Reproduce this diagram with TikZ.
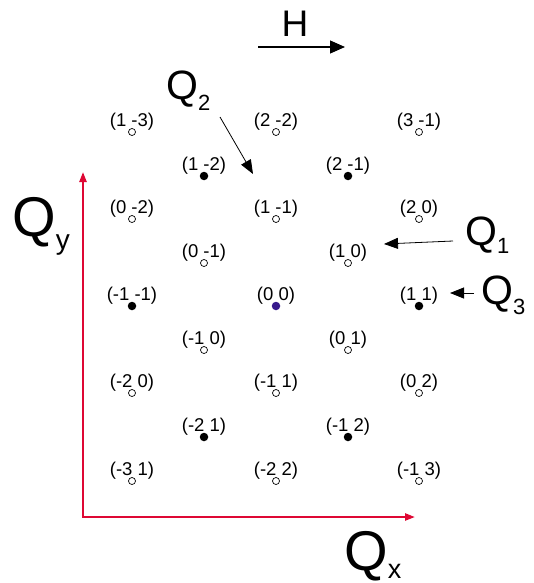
\documentclass[tikz,border=0pt]{standalone}
\usepackage{fontspec}
\setmainfont{Liberation Sans}
\usepackage{tikz}
\usetikzlibrary{
    positioning,
    arrows.meta
}
\definecolor{axisred}{RGB}{222,8,52}
\definecolor{origindot}{RGB}{55,25,140}
\tikzset{
    >=Stealth,
    opendot/.style={
        circle,
        draw,
        line width=0.7pt,
        fill=white,
        minimum size=7pt,
        inner sep=0pt,
        outer sep=0pt
    },
    fulldot/.style={
        circle,
        fill=black,
        minimum size=8.5pt,
        inner sep=0pt,
        outer sep=0pt
    },
    hkl/.style={
        font=\fontsize{18.5}{18.5}\selectfont,
        inner sep=0pt,
        anchor=base,
        yshift=6pt
    },
    qaxis/.style={
        font=\fontsize{56}{56}\selectfont,
        inner sep=0pt,
        anchor=base west
    },
    qvec/.style={
        font=\fontsize{41}{41}\selectfont,
        inner sep=0pt,
        anchor=base west
    },
    axis/.style={
        axisred,
        line width=2.2pt,
        {Triangle[length=10pt,width=7pt]}-{Triangle[length=10pt,width=7pt]}
    },
    pointer/.style={
        line width=0.8pt,
        -{Triangle[length=14pt,width=11pt]}
    }
}

\begin{document}
\begin{tikzpicture}[
    x=1pt,
    y=-1pt
]

    \useasboundingbox (0,0) rectangle (534,583);

    % Axes
    \coordinate (orig) at (83,517);
    \coordinate (ytip) at (83,172);
    \coordinate (xtip) at (415,517);
    \draw[axis] (ytip) -- (orig) -- (xtip);

    \node[qaxis] (qy) at (12,236)
        {Q\raisebox{-13pt}{\fontsize{28}{28}\selectfont y}};
    \node[qaxis] (qx) at (344,570)
        {Q\raisebox{-8pt}{\fontsize{27}{27}\selectfont x}};

    % Reciprocal lattice points
    % row 1
    \node[opendot] (d1m3)  at (132,132) {};
    \node[opendot] (d2m2)  at (276,132) {};
    \node[opendot] (d3m1)  at (419,132) {};

    % row 2
    \node[fulldot] (d1m2)  at (204,176) {};
    \node[fulldot] (d2m1)  at (348,176) {};

    % row 3
    \node[opendot] (d0m2)  at (132,219) {};
    \node[opendot] (d1m1)  at (276,219) {};
    \node[opendot] (d20)   at (419,219) {};

    % row 4
    \node[opendot] (d0m1)  at (204,263) {};
    \node[opendot] (d10)   at (348,263) {};

    % row 5
    \node[fulldot] (dm1m1) at (132,306) {};
    \node[fulldot, fill=origindot] (d00) at (276,306) {};
    \node[fulldot] (d11)   at (419,306) {};

    % row 6
    \node[opendot] (dm10)  at (204,350) {};
    \node[opendot] (d01)   at (348,350) {};

    % row 7
    \node[opendot] (dm20)  at (132,393) {};
    \node[opendot] (dm11)  at (276,393) {};
    \node[opendot] (d02)   at (419,393) {};

    % row 8
    \node[fulldot] (dm21)  at (204,437) {};
    \node[fulldot] (dm12)  at (348,437) {};

    % row 9
    \node[opendot] (dm31)  at (132,481) {};
    \node[opendot] (dm22)  at (276,481) {};
    \node[opendot] (dm13)  at (419,481) {};

    % Indices above the points
    \node[hkl] (t1m3)  at (d1m3)  {(1 -3)};
    \node[hkl] (t2m2)  at (d2m2)  {(2 -2)};
    \node[hkl] (t3m1)  at (d3m1)  {(3 -1)};
    \node[hkl] (t1m2)  at (d1m2)  {(1 -2)};
    \node[hkl] (t2m1)  at (d2m1)  {(2 -1)};
    \node[hkl] (t0m2)  at (d0m2)  {(0 -2)};
    \node[hkl] (t1m1)  at (d1m1)  {(1 -1)};
    \node[hkl] (t20)   at (d20)   {(2 0)};
    \node[hkl] (t0m1)  at (d0m1)  {(0 -1)};
    \node[hkl] (t10)   at (d10)   {(1 0)};
    \node[hkl] (tm1m1) at (dm1m1) {(-1 -1)};
    \node[hkl] (t00)   at (d00)   {(0 0)};
    \node[hkl] (t11)   at (d11)   {(1 1)};
    \node[hkl] (tm10)  at (dm10)  {(-1 0)};
    \node[hkl] (t01)   at (d01)   {(0 1)};
    \node[hkl] (tm20)  at (dm20)  {(-2 0)};
    \node[hkl] (tm11)  at (dm11)  {(-1 1)};
    \node[hkl] (t02)   at (d02)   {(0 2)};
    \node[hkl] (tm21)  at (dm21)  {(-2 1)};
    \node[hkl] (tm12)  at (dm12)  {(-1 2)};
    \node[hkl] (tm31)  at (dm31)  {(-3 1)};
    \node[hkl] (tm22)  at (dm22)  {(-2 2)};
    \node[hkl] (tm13)  at (dm13)  {(-1 3)};

    % Field direction
    \node[font=\fontsize{37}{37}\selectfont, inner sep=0pt, anchor=base]
        (field) at (295,37) {H};
    \coordinate (htail) at (258,47);
    \coordinate (hhead) at (345,47);
    \draw[line width=1.2pt, -{Triangle[length=15pt,width=13pt]}]
        (htail) -- (hhead);

    % Propagation vectors
    \node[qvec] (q2) at (166,100)
        {Q\raisebox{-10pt}{\fontsize{22}{22}\selectfont 2}};
    \node[qvec] (q1) at (465,245)
        {Q\raisebox{-8pt}{\fontsize{22}{22}\selectfont 1}};
    \node[qvec] (q3) at (481,304)
        {Q\raisebox{-10pt}{\fontsize{22}{22}\selectfont 3}};

    \coordinate (q2tail) at (220,117);
    \coordinate (q2head) at (253,174);
    \coordinate (q1tail) at (453,241);
    \coordinate (q1head) at (384,244);
    \coordinate (q3tail) at (474,293);
    \coordinate (q3head) at (450,293);

    \draw[pointer] (q2tail) -- (q2head);
    \draw[pointer] (q1tail) -- (q1head);
    \draw[pointer] (q3tail) -- (q3head);

\end{tikzpicture}
\end{document}
